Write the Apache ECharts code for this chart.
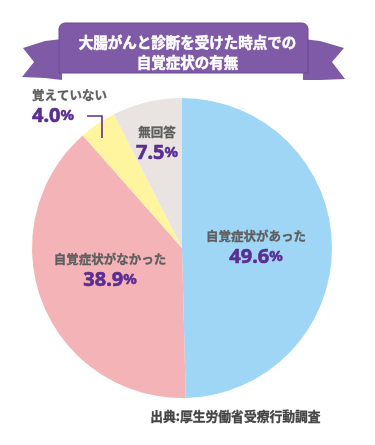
<!DOCTYPE html>
<html><head><meta charset="utf-8">
<style>html,body{margin:0;padding:0;background:#fff}#c{width:375px;height:445px}</style>
<script src="https://cdn.jsdelivr.net/npm/echarts@6/dist/echarts.min.js"></script>
</head><body><div id="c"></div>
<script>
var categories = ['自覚症状があった', '自覚症状がなかった', '覚えていない', '無回答'];
var values = [49.6, 38.9, 4.0, 7.5];
var titleLines = ['大腸がんと診断を受けた時点での', '自覚症状の有無'];
var sourceText = '出典:厚生労働省受療行動調査';

var colors = ['#9fd6f5', '#f4b3b7', '#fff59f', '#e9e4e1'];
var purple = '#5a2d92';
var bannerColor = '#7f5ba7';
// label anchors (text layout only)
var labelAnchors = [
  {x: 256, y: 248, align: 'center'},
  {x: 110, y: 271, align: 'center'},
  {x: 32, y: 107, align: 'left'},
  {x: 157, y: 144, align: 'center'}
];

var chart = echarts.init(document.getElementById('c'), null, {renderer: 'canvas'});
var data = categories.map(function (n, i) {
  var d = {name: n, value: values[i], itemStyle: {color: colors[i]}};
  if (i === 2) {
    d.label = {position: 'outside', align: 'left', overflow: 'none', width: 120, alignTo: 'none'};
  }
  return d;
});

chart.setOption({
  animation: false,
  series: [{
    type: 'pie',
    center: [182, 248],
    radius: 150,
    startAngle: 90,
    clockwise: true,
    silent: true,
    data: data,
    itemStyle: {borderWidth: 0},
    label: {
      show: true,
      position: 'inside',
      overflow: 'none',
      formatter: function (p) {
        return '{n|' + p.name + '}\n{v|' + p.value.toFixed(1) + '}{p|%}';
      },
      rich: {
        n: {fontFamily: 'Noto Sans CJK JP', fontSize: 12.5, fontWeight: 'bold', color: '#5e5e5e', lineHeight: 18, textBorderColor: '#5e5e5e', textBorderWidth: 0.3},
        v: {fontFamily: 'Noto Sans', fontSize: 20, fontWeight: 'bold', color: purple, lineHeight: 24, textBorderColor: purple, textBorderWidth: 0.6},
        p: {fontFamily: 'Noto Sans', fontSize: 15, fontWeight: 'bold', color: purple, lineHeight: 24, textBorderColor: purple, textBorderWidth: 0.5}
      }
    },
    labelLine: {show: false},
    labelLayout: function (params) {
      var a = labelAnchors[params.dataIndex];
      return {x: a.x, y: a.y, align: a.align, verticalAlign: 'middle'};
    }
  }],
  graphic: [
    {type: 'polygon', z: 10, shape: {points: [[62, 39], [45, 41], [23, 48], [34, 62], [22, 77], [45, 78], [62, 80]]}, style: {fill: bannerColor}},
    {type: 'polygon', z: 10, shape: {points: [[303, 39], [320, 41], [344, 48], [332, 62], [345, 79], [320, 80], [303, 80]]}, style: {fill: bannerColor}},
    {type: 'rect', z: 11, shape: {x: 59, y: 23, width: 249, height: 50, r: [6, 6, 0, 0]}, style: {fill: bannerColor, stroke: '#6d4a96', lineWidth: 1}},
    {type: 'text', z: 12, left: 'center', top: 32, style: {text: titleLines.join('\n'), fill: '#fff', font: 'bold 14.5px "Noto Sans CJK JP"', textAlign: 'center', lineHeight: 20, stroke: '#fff', lineWidth: 0.5}},
    {type: 'text', z: 12, left: 150, top: 410, style: {text: sourceText, fill: '#444', font: 'bold 12.8px "Noto Sans CJK JP"', stroke: '#444', lineWidth: 0.3}},
    {type: 'polyline', z: 20, shape: {points: [[87, 116], [102, 116], [102, 138]]}, style: {stroke: purple, lineWidth: 1.6, fill: null}}
  ]
});
</script></body></html>
